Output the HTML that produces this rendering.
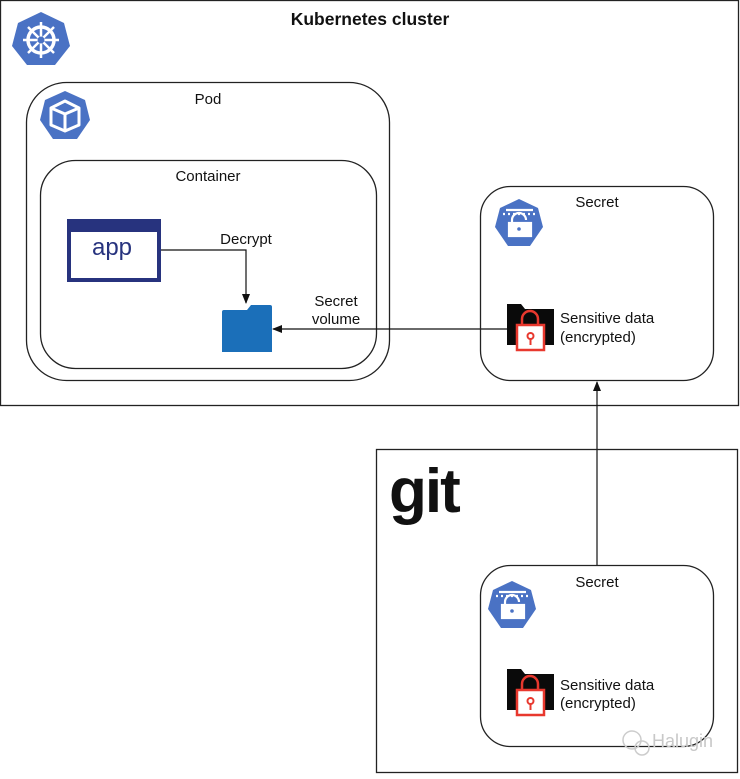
<!DOCTYPE html>
<html><head><meta charset="utf-8"><style>
body{margin:0;background:#fff;}
svg text{font-family:"Liberation Sans",sans-serif;fill:#111;}
</style></head><body>
<svg width="740" height="774" viewBox="0 0 740 774" xmlns="http://www.w3.org/2000/svg">
<defs>
<marker id="ah" markerWidth="10" markerHeight="8" refX="9" refY="4" orient="auto" markerUnits="userSpaceOnUse"><path d="M0,0 L10,4 L0,8 z" fill="#111"/></marker>
</defs>
<rect x="0.5" y="0.5" width="738" height="405" fill="none" stroke="#222" stroke-width="1.3"/>
<text x="370" y="25" font-size="17.5" font-weight="bold" text-anchor="middle">Kubernetes cluster</text>
<!-- k8s logo -->
<polygon points="41,12 64,23 70,46 55,65 27,65 12,46 18,23" fill="#4a72c4"/>
<circle cx="41" cy="40" r="13" fill="none" stroke="#fff" stroke-width="3.5"/>
<g stroke="#fff" stroke-width="2.5"><line x1="41" y1="22" x2="41" y2="58"/><line x1="23" y1="40" x2="59" y2="40"/><line x1="28" y1="27" x2="54" y2="53"/><line x1="54" y1="27" x2="28" y2="53"/></g>
<circle cx="41" cy="40" r="3.5" fill="#4a72c4"/>
<!-- Pod -->
<rect x="26.5" y="82.5" width="363" height="298" rx="40" fill="none" stroke="#222" stroke-width="1.3"/>
<text x="208" y="104" font-size="15" text-anchor="middle">Pod</text>
<polygon points="65,91 85,100 90,120 77,139 53,139 40,120 45,100" fill="#4a72c4"/>
<g stroke="#fff" stroke-width="3" fill="none" stroke-linejoin="round"><polygon points="65,101 79,108 79,125 65,131 51,125 51,108"/><polyline points="51,108 65,114 79,108"/><line x1="65" y1="114" x2="65" y2="131"/></g>
<!-- Container -->
<rect x="40.5" y="160.5" width="336" height="208" rx="35" fill="none" stroke="#222" stroke-width="1.3"/>
<text x="208" y="181" font-size="15" text-anchor="middle">Container</text>
<!-- app -->
<rect x="69" y="221" width="90" height="59" fill="#fff" stroke="#27337e" stroke-width="4"/>
<rect x="67" y="219" width="94" height="13" fill="#27337e"/>
<text x="112" y="255" font-size="24" text-anchor="middle" style="fill:#27337e">app</text>
<text x="246" y="244" font-size="15" text-anchor="middle">Decrypt</text>
<polyline points="161,250 246,250 246,303" fill="none" stroke="#111" stroke-width="1.2" marker-end="url(#ah)"/>
<!-- blue folder -->
<path d="M222,312 L222,352 L272,352 L272,308 Q272,306 270,306 L251,306 L248,310 L224,310 Q222,310 222,312 z" fill="#1b6fb9"/>
<path d="M247,310 L251,305 L270,305 Q272,305 272,307 L272,310 z" fill="#1b6fb9"/>
<text x="336" y="306" font-size="15" text-anchor="middle">Secret</text>
<text x="336" y="324" font-size="15" text-anchor="middle">volume</text>
<line x1="507" y1="329" x2="273" y2="329" stroke="#111" stroke-width="1.2" marker-end="url(#ah)"/>
<!-- Secret 1 -->
<rect x="480.5" y="186.5" width="233" height="194" rx="30" fill="none" stroke="#222" stroke-width="1.3"/>
<text x="597" y="207" font-size="15" text-anchor="middle">Secret</text>
<g id="seclogo">
<polygon points="519,199 538,208 543,227 530,246 508,246 495,227 500,208" fill="#4a72c4"/>
<g stroke="#fff" stroke-width="2.2" fill="none"><line x1="506" y1="210" x2="533" y2="210"/><line x1="503" y1="214" x2="535" y2="214" stroke-dasharray="2,3"/><path d="M512,223 v-3 a7,7 0 0 1 14,0"/><rect x="509" y="223" width="22" height="13" fill="#fff"/></g>
<circle cx="519" cy="229" r="1.8" fill="#4a72c4"/>
</g>
<g id="sens1">
<path d="M507,304 L521,304 L525,309 L554,309 L554,345 L507,345 z" fill="#0a0a0a"/>
<rect x="517" y="325" width="27" height="25" fill="#fff" stroke="#e8382e" stroke-width="2.5"/>
<path d="M522,325 v-6 a8,8 0 0 1 16,0 v6" fill="none" stroke="#e8382e" stroke-width="2.5"/>
<circle cx="530.5" cy="336" r="3" fill="none" stroke="#e8382e" stroke-width="2"/><line x1="530.5" y1="339" x2="530.5" y2="345" stroke="#e8382e" stroke-width="2"/>
</g>
<text x="560" y="323" font-size="15">Sensitive data</text>
<text x="560" y="342" font-size="15">(encrypted)</text>
<line x1="597" y1="565" x2="597" y2="382" stroke="#111" stroke-width="1.2" marker-end="url(#ah)"/>
<!-- git box -->
<rect x="376.5" y="449.5" width="361" height="323" fill="none" stroke="#222" stroke-width="1.3"/>
<text x="389" y="512" font-size="62" font-weight="bold" style="letter-spacing:-2px">git</text>
<!-- Secret 2 -->
<rect x="480.5" y="565.5" width="233" height="181" rx="30" fill="none" stroke="#222" stroke-width="1.3"/>
<text x="597" y="587" font-size="15" text-anchor="middle">Secret</text>
<use href="#seclogo" transform="translate(-7,382)"/>
<use href="#sens1" transform="translate(0,365)"/>
<text x="560" y="690" font-size="15">Sensitive data</text>
<text x="560" y="708" font-size="15">(encrypted)</text>
<text x="652" y="747" font-size="18" style="fill:#c8c8c8">Halugin</text>
<circle cx="632" cy="740" r="9" fill="none" stroke="#ccc" stroke-width="1.5"/>
<circle cx="642" cy="748" r="7" fill="none" stroke="#ccc" stroke-width="1.5"/>
</svg>
</body></html>
